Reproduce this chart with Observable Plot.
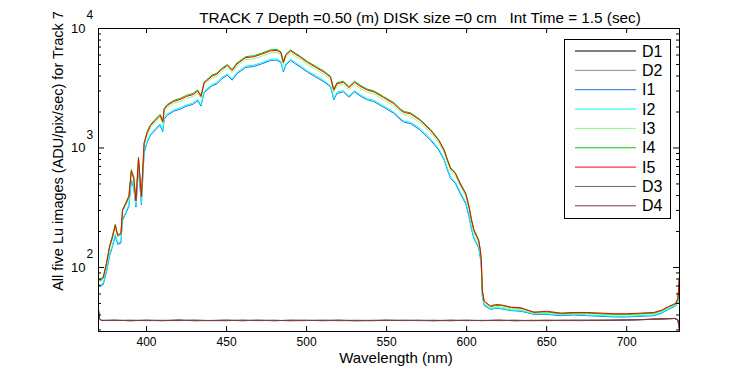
<!DOCTYPE html>
<html><head><meta charset="utf-8">
<script src="https://cdn.jsdelivr.net/npm/d3@7"></script>
<script src="https://cdn.jsdelivr.net/npm/@observablehq/plot@0.6"></script>
<style>
body{margin:0;background:#fff;}
#chart{position:relative;width:750px;height:375px;font-family:"Liberation Sans",Arial,sans-serif;}
#legend{position:absolute;left:0;top:0;}
</style></head><body><div id="chart"></div>
<script>
// ---- data ----
const wavelength = [370,371,373,375,377,378.5,380.5,382,384,385,387,389,390.5,392,393.4,395,396.8,398.5,400.5,402.5,405.5,408.5,410.2,411,413,417,421,425,429,432,434,436,441,444,447,450.5,453.5,456.5,462,467,472,477.5,481.5,484,485.5,487,490,493,496,500.5,505.5,511,515,517,519,523,526.5,530,534,538,542,548,554.5,559,561,565,571,577.5,582.5,586,588,590,593,596,599.5,601.5,603,604.5,607.5,608.5,609.2,609.8,611,615,618,622,628,634,642,650,659,667,675,684,692,700,709,717,722,726,730.5,732,733];
const I5 = [80,78,82,108,150,175,225,185,190,300,340,390,640,560,360,820,390,1090,1350,1540,1700,1870,1650,2100,2270,2450,2550,2700,2800,3000,2700,3500,4000,4150,4550,4900,4450,5050,5700,5800,6100,6500,6550,6250,5200,5950,6500,6100,5750,5200,4750,4300,3900,3050,3450,3550,3200,3550,3250,3050,2950,2650,2350,2060,1980,1930,1700,1400,1160,950,790,670,610,500,410,320,250,205,168,140,114,64,52,47.5,49,48.5,46.5,46,42,43,41.5,42,42,41.5,41,41,41.5,42,44,47,50,55,85];
const I4 = [81,79,84,110,154,180,230,188,194,305,348,400,660,575,370,840,400,1110,1380,1570,1740,1910,1690,2140,2320,2500,2600,2760,2860,3060,2750,3570,4080,4230,4640,5000,4540,5150,5810,5920,6220,6630,6680,6380,5300,6070,6630,6220,5870,5300,4850,4390,3980,3110,3520,3620,3260,3620,3320,3110,3010,2700,2400,2100,2020,1970,1730,1430,1180,970,805,685,620,510,418,326,255,209,171,143,116,65,52,47,48,48,46,45.5,42.5,42.5,41,41.5,41.5,41,40.5,40.5,41,41.5,43.5,46.5,49.5,54,82];
const I3 = [78,76,80,104,145,170,218,180,184,290,330,378,620,540,350,795,380,1050,1300,1480,1640,1800,1590,2020,2180,2360,2450,2600,2690,2880,2600,3360,3850,3990,4370,4710,4280,4850,5480,5570,5860,6240,6290,6000,5000,5710,6240,5860,5520,4990,4560,4130,3740,2930,3310,3410,3070,3410,3120,2930,2830,2540,2260,1980,1900,1850,1630,1340,1110,910,760,645,585,480,395,307,240,197,162,135,110,62,50,46,47,46.5,45,44.5,41.5,42,40.5,41,41,40.5,40,40,40.5,41,43,46,49,53,80];
const I2 = [73,71,74,95,130,150,190,160,165,255,290,335,550,480,330,700,345,930,1150,1310,1450,1590,1400,1790,1930,2080,2170,2290,2380,2550,2290,2980,3400,3530,3870,4170,3780,4290,4850,4930,5190,5530,5570,5310,4420,5060,5530,5190,4890,4420,4040,3660,3320,2590,2930,3020,2720,3020,2760,2590,2510,2250,2000,1750,1680,1640,1450,1190,990,810,675,570,520,430,350,275,215,180,150,125,100,58,49,45,46,45.5,44,43.5,41,41,40,40.5,40,39.5,39,39,39.5,40,42,45,48,52,86];
const I1 = [72,70,72,92,126,146,184,156,160,248,282,325,530,465,320,680,335,905,1120,1280,1410,1550,1370,1740,1880,2030,2110,2240,2320,2490,2240,2900,3320,3440,3780,4070,3690,4190,4730,4810,5060,5400,5440,5190,4320,4940,5400,5060,4770,4320,3940,3570,3240,2530,2860,2950,2660,2950,2700,2530,2450,2200,1950,1710,1640,1600,1410,1160,965,790,655,555,505,415,340,265,210,175,146,122,98,57,48,44.5,45.5,45,43.5,43,40.5,40.5,39.5,40,39.5,39,38.5,38.5,39,39.5,41.5,44.5,47.5,51,84];

const darkWavelength = [370,370.7,372,380,390,400,410,420,430,440,450,460,470,480,490,500,510,520,530,540,550,560,570,580,590,600,610,620,630,640,650,660,670,680,690,700,710,720,725,730,732,733];
const D1 = [44,37,36,36.2,35.8,36.1,35.9,36.3,35.8,36,36.2,35.9,36.1,35.8,36.2,36,35.9,36.1,35.8,36,36.2,35.9,36,35.8,36.1,36,35.9,36.2,35.8,36,36.1,35.9,36,36.2,36.1,36.3,36.6,37,37.2,37.4,36.5,31];
const D2 = [43,36.8,35.9,36,36.1,35.8,36.2,35.9,36.1,35.8,36,36.2,35.8,36.1,35.9,36.2,35.8,36,36.2,35.9,36,36.1,35.8,36.2,35.9,36.1,36,35.8,36.1,35.9,36.2,36,35.8,36.1,36.3,36.2,36.5,36.9,37.1,37.3,36.2,30.5];
const D3 = [43.5,37.2,36.1,35.9,36.2,36,35.8,36.1,36.2,35.9,36.1,35.8,36.2,36,35.9,36.1,36.2,35.8,36,36.1,35.9,36.2,36,35.9,36.2,35.8,36.1,36,36.2,35.8,36,36.2,36.1,35.9,36.2,36.4,36.7,37.1,37.3,37.5,36.4,30];
const D4 = [44.5,37,36,36.1,35.9,36.2,36,35.9,36.1,36,35.8,36.2,36,36.1,35.8,35.9,36.1,36.2,35.9,35.8,36.1,36,36.2,36,35.8,36.2,35.9,36.1,35.9,36.1,35.8,36.1,36.2,36,36.1,36.3,36.6,37,37.2,37.4,36.3,29.5];

const xTicks = [400,450,500,550,600,650,700];
const yMajorTicks = [100,1000,10000];
const yMinorTicks = [30,40,50,60,70,80,90,200,300,400,500,600,700,800,900,2000,3000,4000,5000,6000,7000,8000,9000];
const legendNames = ["D1","D2","I1","I2","I3","I4","I5","D3","D4"];
const titleText = "TRACK 7 Depth =0.50 (m) DISK size =0 cm   Int Time = 1.5 (sec)";
const xLabel = "Wavelength (nm)";
const yLabel = "All five Lu images (ADU/pix/sec) for Track 7";

// ---- styles ----
const colors = {D1:"#000000",D2:"#8a8a8a",I1:"#1f6fdf",I2:"#00ffff",I3:"#88ff88",I4:"#00cc00",I5:"#ff0000",D3:"#7f5f5f",D4:"#803c3c"};
const seriesData = {
  D1:[darkWavelength,D1], D2:[darkWavelength,D2],
  I1:[wavelength,I1], I2:[wavelength,I2], I3:[wavelength,I3], I4:[wavelength,I4], I5:[wavelength,I5],
  D3:[darkWavelength,D3], D4:[darkWavelength,D4]
};
const font = '"Liberation Sans", Arial, sans-serif';
const mL=98, mR=71, mT=28, mB=44, W=750, H=375;
const fw = W-mL-mR, fh = H-mT-mB;

const lineMarks = legendNames.map(n => {
  const [xs, ys] = seriesData[n];
  const rows = xs.map((w,i)=>({w, v: ys[i]}));
  return Plot.line(rows, {x:"w", y:"v", stroke: colors[n], strokeWidth:1});
});

const plot = Plot.plot({
  width: W, height: H,
  marginLeft: mL, marginRight: mR, marginTop: mT, marginBottom: mB,
  x: {type:"linear", domain:[370,733], axis:null},
  y: {type:"log", domain:[29.1,10000], axis:null},
  style: {fontFamily: font, background:"white", color:"black", overflow:"visible"},
  marks: [
    ...lineMarks,
    Plot.frame({stroke:"black", strokeWidth:1}),
    Plot.tickX(xTicks, {x:d=>d, insetTop: fh-5, stroke:"black"}),
    Plot.tickX(xTicks, {x:d=>d, insetBottom: fh-5, stroke:"black"}),
    Plot.tickY(yMajorTicks, {y:d=>d, insetRight: fw-6, stroke:"black"}),
    Plot.tickY(yMajorTicks, {y:d=>d, insetLeft: fw-6, stroke:"black"}),
    Plot.tickY(yMinorTicks, {y:d=>d, insetRight: fw-3, stroke:"black"}),
    Plot.tickY(yMinorTicks, {y:d=>d, insetLeft: fw-3, stroke:"black"}),
    Plot.text(xTicks, {x:d=>d, frameAnchor:"bottom", dy:14, text:d=>String(d), fontSize:12, fill:"black"}),
    Plot.text(yMajorTicks, {y:d=>d, frameAnchor:"left", dx:-13, textAnchor:"end", text:()=>"10", fontSize:13, fill:"black"}),
    Plot.text(yMajorTicks, {y:d=>d, frameAnchor:"left", dx:-12, dy:-13, textAnchor:"start", text:d=>String(Math.round(Math.log10(d))), fontSize:12, fill:"black"}),
    Plot.text([titleText], {frameAnchor:"top", dy:-16, dx:31, text:d=>d, fontSize:15.3, fill:"black"}),
    Plot.text([xLabel], {frameAnchor:"bottom", dy:31, dx:7, text:d=>d, fontSize:15, fill:"black"}),
    Plot.text([yLabel], {frameAnchor:"left", textAnchor:"middle", rotate:-90, dx:-40, dy:-29, text:d=>d, fontSize:14.5, fill:"black"})
  ]
});
const chart = document.getElementById("chart");
chart.appendChild(plot);

// ---- legend overlay ----
const ns = "http://www.w3.org/2000/svg";
const lg = document.createElementNS(ns, "svg");
lg.setAttribute("id","legend"); lg.setAttribute("width",W); lg.setAttribute("height",H);
const box = document.createElementNS(ns,"rect");
box.setAttribute("x",564.5); box.setAttribute("y",39.5); box.setAttribute("width",106); box.setAttribute("height",179);
box.setAttribute("fill","white"); box.setAttribute("stroke","black");
lg.appendChild(box);
legendNames.forEach((n,i)=>{
  const y = 51 + i*19.35;
  const ln = document.createElementNS(ns,"line");
  ln.setAttribute("x1",575); ln.setAttribute("x2",636); ln.setAttribute("y1",y); ln.setAttribute("y2",y);
  ln.setAttribute("stroke",colors[n]); ln.setAttribute("stroke-width",1);
  lg.appendChild(ln);
  const t = document.createElementNS(ns,"text");
  t.setAttribute("x",642); t.setAttribute("y",y); t.setAttribute("dy","0.35em");
  t.setAttribute("font-family",font); t.setAttribute("font-size",16); t.textContent = n;
  lg.appendChild(t);
});
chart.appendChild(lg);
</script></body></html>
